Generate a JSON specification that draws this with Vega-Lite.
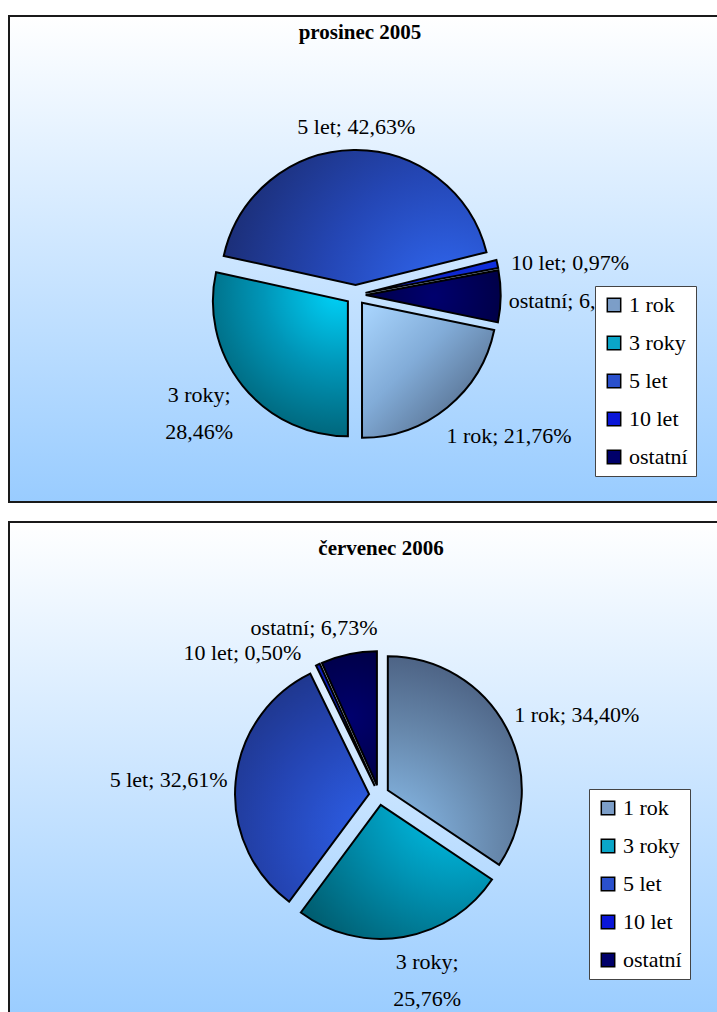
{
  "$schema": "https://vega.github.io/schema/vega-lite/v6.json",
  "background": "white",
  "padding": {"left": 8, "top": 15, "right": 0, "bottom": 0},
  "spacing": 18,
  "params": [
    {"name": "explode", "value": 10},
    {"name": "cx1", "value": 346.7},
    {"name": "cy1", "value": 279},
    {"name": "start1", "value": 1.7743},
    {"name": "cx2", "value": 370},
    {"name": "cy2", "value": 273},
    {"name": "start2", "value": 0}
  ],
  "datasets": {
    "dec2005": [
      {"idx": 1, "term": "1 rok", "share": 21.76, "label": "1 rok; 21,76%"},
      {"idx": 2, "term": "3 roky", "share": 28.46, "label": "3 roky;\n28,46%"},
      {"idx": 3, "term": "5 let", "share": 42.63, "label": "5 let; 42,63%"},
      {"idx": 4, "term": "10 let", "share": 0.97, "label": "10 let; 0,97%"},
      {"idx": 5, "term": "ostatní", "share": 6.18, "label": "ostatní; 6,18%"}
    ],
    "jul2006": [
      {"idx": 1, "term": "1 rok", "share": 34.40, "label": "1 rok; 34,40%"},
      {"idx": 2, "term": "3 roky", "share": 25.76, "label": "3 roky;\n25,76%"},
      {"idx": 3, "term": "5 let", "share": 32.61, "label": "5 let; 32,61%"},
      {"idx": 4, "term": "10 let", "share": 0.50, "label": "10 let; 0,50%"},
      {"idx": 5, "term": "ostatní", "share": 6.73, "label": "ostatní; 6,73%"}
    ]
  },
  "resolve": {
    "scale": {"color": "independent", "theta": "independent"},
    "legend": {"color": "independent"}
  },
  "vconcat": [
    {
      "width": 712,
      "height": 486,
      "view": {
        "fill": {"gradient": "linear", "x1": 0, "y1": 0, "x2": 0, "y2": 1, "stops": [{"offset": 0, "color": "#ffffff"}, {"offset": 1, "color": "#99ccff"}]},
        "stroke": "#1a1a1a",
        "strokeWidth": 2
      },
      "title": {"text": "prosinec 2005", "offset": -27, "dx": -5},
      "data": {"name": "dec2005"},
      "encoding": {
        "theta": {
          "field": "share",
          "type": "quantitative",
          "stack": true,
          "scale": {"domain": [0, 100], "range": [{"expr": "start1"}, {"expr": "start1 + 2*PI"}]}
        },
        "order": {"field": "idx", "type": "quantitative"},
        "detail": {"field": "term", "type": "nominal"}
      },
      "layer": [
        {
          "mark": {
            "type": "arc",
            "radius": 135,
            "stroke": "#000000",
            "strokeWidth": 2,
            "x": {"expr": "cx1 + explode*sin(start1 + PI*(datum.share_start + datum.share_end)/100)"},
            "y": {"expr": "cy1 - explode*cos(start1 + PI*(datum.share_start + datum.share_end)/100)"}
          },
          "encoding": {
            "color": {
              "field": "term",
              "type": "nominal",
              "scale": {
                "domain": ["1 rok", "3 roky", "5 let", "10 let", "ostatní"],
                "range": ["#7c9ec8", "#0aa6c8", "#2a50cc", "#0a16d8", "#00006a"]
              },
              "legend": {"orient": "none", "legendX": 586, "legendY": 270, "title": null, "labelFont": "Liberation Serif"},
              "condition": [
                {"test": "datum.term === '1 rok'", "value": {"gradient": "linear", "x1": 0.05, "y1": 0.05, "x2": 0.95, "y2": 0.95, "stops": [{"offset": 0, "color": "#a6d2fb"}, {"offset": 0.4, "color": "#82acd8"}, {"offset": 1, "color": "#485c78"}]}},
                {"test": "datum.term === '3 roky'", "value": {"gradient": "radial", "x1": 0.85, "y1": 0.12, "r1": 0, "x2": 0.85, "y2": 0.12, "r2": 1.0, "stops": [{"offset": 0, "color": "#00d2f8"}, {"offset": 0.45, "color": "#0096b8"}, {"offset": 1, "color": "#005a6c"}]}},
                {"test": "datum.term === '5 let'", "value": {"gradient": "radial", "x1": 0.85, "y1": 0.8, "r1": 0, "x2": 0.85, "y2": 0.8, "r2": 0.95, "stops": [{"offset": 0, "color": "#3068f2"}, {"offset": 0.5, "color": "#2446b4"}, {"offset": 1, "color": "#1a2a6c"}]}},
                {"test": "datum.term === '10 let'", "value": {"gradient": "linear", "x1": 0, "y1": 0, "x2": 1, "y2": 0, "stops": [{"offset": 0, "color": "#0a18b0"}, {"offset": 1, "color": "#1030e0"}]}},
                {"test": "datum.term === 'ostatní'", "value": {"gradient": "radial", "x1": 0.5, "y1": 0.5, "r1": 0, "x2": 0.5, "y2": 0.5, "r2": 0.7, "stops": [{"offset": 0, "color": "#00006e"}, {"offset": 1, "color": "#00003a"}]}}
              ]
            }
          }
        },
        {
          "mark": {"type": "text", "font": "Liberation Serif", "x": {"expr": "cx1"}, "y": {"expr": "cy1"}, "radius": 168, "align": "center", "baseline": "middle", "dx": 3, "fontSize": 22},
          "encoding": {"text": {"condition": {"test": "datum.term === '5 let'", "field": "label", "type": "nominal"}, "value": ""}}
        },
        {
          "mark": {"type": "text", "font": "Liberation Serif", "x": {"expr": "cx1"}, "y": {"expr": "cy1"}, "radius": 159, "align": "left", "baseline": "middle", "dy": 2, "fontSize": 22},
          "encoding": {"text": {"condition": {"test": "datum.term === '10 let'", "field": "label", "type": "nominal"}, "value": ""}}
        },
        {
          "mark": {"type": "text", "font": "Liberation Serif", "x": {"expr": "cx1"}, "y": {"expr": "cy1"}, "radius": 153, "align": "left", "baseline": "middle", "dy": 5, "fontSize": 22},
          "encoding": {"text": {"condition": {"test": "datum.term === 'ostatní'", "field": "label", "type": "nominal"}, "value": ""}}
        },
        {
          "mark": {"type": "text", "font": "Liberation Serif", "x": {"expr": "cx1"}, "y": {"expr": "cy1"}, "radius": 180, "align": "left", "baseline": "middle", "dx": -23, "dy": 1, "fontSize": 22},
          "encoding": {"text": {"condition": {"test": "datum.term === '1 rok'", "field": "label", "type": "nominal"}, "value": ""}}
        },
        {
          "mark": {"type": "text", "font": "Liberation Serif", "x": {"expr": "cx1"}, "y": {"expr": "cy1"}, "radius": 188, "align": "center", "baseline": "middle", "dx": -10, "dy": -18, "fontSize": 22, "lineBreak": "\n", "lineHeight": 37},
          "encoding": {"text": {"condition": {"test": "datum.term === '3 roky'", "field": "label", "type": "nominal"}, "value": ""}}
        }
      ]
    },
    {
      "width": 712,
      "height": 500,
      "view": {
        "fill": {"gradient": "linear", "x1": 0, "y1": 0, "x2": 0, "y2": 1, "stops": [{"offset": 0, "color": "#ffffff"}, {"offset": 1, "color": "#99ccff"}]},
        "stroke": "#1a1a1a",
        "strokeWidth": 2
      },
      "title": {"text": "červenec 2006", "offset": -37, "dx": 16},
      "data": {"name": "jul2006"},
      "encoding": {
        "theta": {
          "field": "share",
          "type": "quantitative",
          "stack": true,
          "scale": {"domain": [0, 100], "range": [{"expr": "start2"}, {"expr": "start2 + 2*PI"}]}
        },
        "order": {"field": "idx", "type": "quantitative"},
        "detail": {"field": "term", "type": "nominal"}
      },
      "layer": [
        {
          "mark": {
            "type": "arc",
            "radius": 134,
            "stroke": "#000000",
            "strokeWidth": 2,
            "x": {"expr": "cx2 + explode*sin(start2 + PI*(datum.share_start + datum.share_end)/100)"},
            "y": {"expr": "cy2 - explode*cos(start2 + PI*(datum.share_start + datum.share_end)/100)"}
          },
          "encoding": {
            "color": {
              "field": "term",
              "type": "nominal",
              "scale": {
                "domain": ["1 rok", "3 roky", "5 let", "10 let", "ostatní"],
                "range": ["#7c9ec8", "#0aa6c8", "#2a50cc", "#0a16d8", "#00006a"]
              },
              "legend": {"orient": "none", "legendX": 580, "legendY": 267, "title": null, "labelFont": "Liberation Serif"},
              "condition": [
                {"test": "datum.term === '1 rok'", "value": {"gradient": "radial", "x1": 0.15, "y1": 0.9, "r1": 0, "x2": 0.15, "y2": 0.9, "r2": 1.0, "stops": [{"offset": 0, "color": "#8ec4f4"}, {"offset": 0.55, "color": "#6788ac"}, {"offset": 1, "color": "#46597a"}]}},
                {"test": "datum.term === '3 roky'", "value": {"gradient": "radial", "x1": 0.8, "y1": 0.12, "r1": 0, "x2": 0.8, "y2": 0.12, "r2": 1.0, "stops": [{"offset": 0, "color": "#00c6ee"}, {"offset": 0.5, "color": "#0090b0"}, {"offset": 1, "color": "#005a6c"}]}},
                {"test": "datum.term === '5 let'", "value": {"gradient": "radial", "x1": 0.85, "y1": 0.7, "r1": 0, "x2": 0.85, "y2": 0.7, "r2": 1.0, "stops": [{"offset": 0, "color": "#2e62ee"}, {"offset": 0.5, "color": "#2444b2"}, {"offset": 1, "color": "#1b2c70"}]}},
                {"test": "datum.term === '10 let'", "value": {"gradient": "linear", "x1": 0, "y1": 0, "x2": 1, "y2": 0, "stops": [{"offset": 0, "color": "#0a18b0"}, {"offset": 1, "color": "#1030e0"}]}},
                {"test": "datum.term === 'ostatní'", "value": {"gradient": "radial", "x1": 0.5, "y1": 0.5, "r1": 0, "x2": 0.5, "y2": 0.5, "r2": 0.7, "stops": [{"offset": 0, "color": "#00006e"}, {"offset": 1, "color": "#00003a"}]}}
              ]
            }
          }
        },
        {
          "mark": {"type": "text", "font": "Liberation Serif", "x": {"expr": "cx2"}, "y": {"expr": "cy2"}, "radius": 160, "align": "left", "baseline": "middle", "dx": -6, "dy": -5, "fontSize": 22},
          "encoding": {"text": {"condition": {"test": "datum.term === '1 rok'", "field": "label", "type": "nominal"}, "value": ""}}
        },
        {
          "mark": {"type": "text", "font": "Liberation Serif", "x": {"expr": "cx2"}, "y": {"expr": "cy2"}, "radius": 189, "align": "center", "baseline": "middle", "dx": 16, "dy": -19, "fontSize": 22, "lineBreak": "\n", "lineHeight": 37},
          "encoding": {"text": {"condition": {"test": "datum.term === '3 roky'", "field": "label", "type": "nominal"}, "value": ""}}
        },
        {
          "mark": {"type": "text", "font": "Liberation Serif", "x": {"expr": "cx2"}, "y": {"expr": "cy2"}, "radius": 152, "align": "right", "baseline": "middle", "dy": -1, "fontSize": 22},
          "encoding": {"text": {"condition": {"test": "datum.term === '5 let'", "field": "label", "type": "nominal"}, "value": ""}}
        },
        {
          "mark": {"type": "text", "font": "Liberation Serif", "x": {"expr": "cx2"}, "y": {"expr": "cy2"}, "radius": 157, "align": "right", "baseline": "middle", "dx": -11, "fontSize": 22},
          "encoding": {"text": {"condition": {"test": "datum.term === '10 let'", "field": "label", "type": "nominal"}, "value": ""}}
        },
        {
          "mark": {"type": "text", "font": "Liberation Serif", "x": {"expr": "cx2"}, "y": {"expr": "cy2"}, "radius": 171, "align": "center", "baseline": "middle", "dx": -29, "fontSize": 22},
          "encoding": {"text": {"condition": {"test": "datum.term === 'ostatní'", "field": "label", "type": "nominal"}, "value": ""}}
        }
      ]
    }
  ],
  "config": {
    "font": "Liberation Serif",
    "text": {"font": "Liberation Serif", "color": "#000000"},
    "title": {"font": "Liberation Serif", "fontSize": 21, "fontWeight": "bold", "color": "#000000", "anchor": "middle", "frame": "group", "baseline": "alphabetic"},
    "legend": {
      "fillColor": "#ffffff",
      "strokeColor": "#444444",
      "padding": 8,
      "symbolType": "square",
      "symbolSize": 180,
      "symbolStrokeColor": "#000000",
      "symbolStrokeWidth": 1.5,
      "labelFont": "Liberation Serif",
      "labelFontSize": 22,
      "labelColor": "#000000",
      "labelOffset": 4,
      "labelLimit": 0,
      "rowPadding": 16
    }
  }
}
